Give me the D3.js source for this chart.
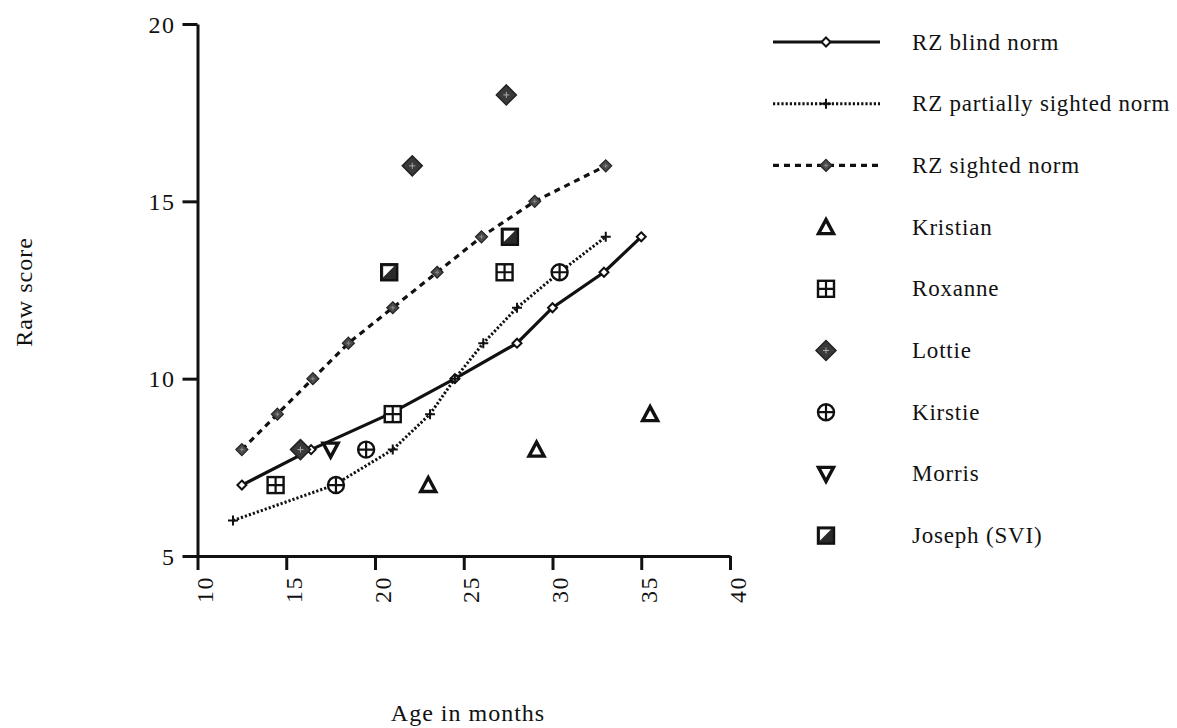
<!DOCTYPE html>
<html>
<head>
<meta charset="utf-8">
<script src="https://cdn.jsdelivr.net/npm/d3@7"></script>
<style>
  body { margin: 0; background: #fff; }
  svg text { font-family: "Liberation Serif", "Times New Roman", serif; fill: #111; }
</style>
</head>
<body>
<svg id="chart" width="1177" height="728"></svg>
<script>
// Normes RZ (âge en mois, score brut)
var blindAge = [12.5, 16.4, 20.8, 24.5, 28, 30, 32.9, 35];
var blindScore = [7, 8, 9, 10, 11, 12, 13, 14];
var partialAge = [12, 17.7, 21, 23.1, 24.5, 26.1, 28, 30.4, 33];
var partialScore = [6, 7, 8, 9, 10, 11, 12, 13, 14];
var sightedAge = [12.5, 14.5, 16.5, 18.5, 21, 23.5, 26, 29, 33];
var sightedScore = [8, 9, 10, 11, 12, 13, 14, 15, 16];

// Enfants
var kristianAge = [23, 29.1, 35.5];
var kristianScore = [7, 8, 9];
var roxanneAge = [14.4, 21, 27.3];
var roxanneScore = [7, 9, 13];
var lottieAge = [15.8, 22.1, 27.4];
var lottieScore = [8, 16, 18];
var kirstieAge = [17.8, 19.5, 30.4];
var kirstieScore = [7, 8, 13];
var morrisAge = [17.5];
var morrisScore = [8];
var josephAge = [20.8, 27.6];
var josephScore = [13, 14];

var xTicks = [10, 15, 20, 25, 30, 35, 40];
var yTicks = [5, 10, 15, 20];
var legendLabels = ["RZ blind norm", "RZ partially sighted norm", "RZ sighted norm",
  "Kristian", "Roxanne", "Lottie", "Kirstie", "Morris", "Joseph (SVI)"];

function zip(xs, ys) { return xs.map(function (x, i) { return { x: x, y: ys[i] }; }); }

var svg = d3.select("#chart");
var x = d3.scaleLinear().domain([10, 40]).range([197.5, 730]);
var y = d3.scaleLinear().domain([5, 20]).range([556, 24]);

// Axes
var gx = svg.append("g").attr("transform", "translate(0," + y(5) + ")")
  .call(d3.axisBottom(x).tickValues(xTicks).tickSize(14).tickSizeOuter(0).tickFormat(d3.format("d")));
var gy = svg.append("g").attr("transform", "translate(" + x(10) + ",0)")
  .call(d3.axisLeft(y).tickValues(yTicks).tickSize(15).tickSizeOuter(0).tickFormat(d3.format("d")));
[gx, gy].forEach(function (g) {
  g.select(".domain").attr("stroke", "#111").attr("stroke-width", 3);
  g.selectAll(".tick line").attr("stroke", "#111").attr("stroke-width", 3);
  g.selectAll("text").attr("fill", "#111").style("font-size", "24px").style("letter-spacing", "1.5px");
});
gx.selectAll(".tick text")
  .attr("text-anchor", "end")
  .attr("transform", "translate(0,20) rotate(-90)")
  .attr("x", 0).attr("y", 0).attr("dy", "15px");
gy.selectAll(".tick text").attr("x", -22).attr("dy", "0.34em");

// Titres des axes
svg.append("text").attr("x", 468).attr("y", 721).attr("text-anchor", "middle")
  .style("font-size", "24px").style("letter-spacing", "1px").text("Age in months");
svg.append("text").attr("transform", "translate(32,292) rotate(-90)").attr("text-anchor", "middle")
  .style("font-size", "24px").style("letter-spacing", "1px").text("Raw score");

// Marqueurs
function diamond(r) { return "M0," + (-r) + "L" + r + ",0L0," + r + "L" + (-r) + ",0Z"; }
function drawMarker(g, type) {
  if (type === "blind") {
    g.append("path").attr("d", diamond(4.5)).attr("fill", "#fff").attr("stroke", "#111").attr("stroke-width", 2);
  } else if (type === "partial") {
    g.append("path").attr("d", "M-5,0H5M0,-5V5").attr("stroke", "#111").attr("stroke-width", 2);
  } else if (type === "sighted") {
    g.append("path").attr("d", diamond(6)).attr("fill", "#4a4a4a").attr("stroke", "#222").attr("stroke-width", 1.2);
    g.append("path").attr("d", "M-2,0H2M0,-2V2").attr("stroke", "#999").attr("stroke-width", 0.8);
  } else if (type === "kristian") {
    g.append("path").attr("d", "M0,-7.5L7.5,6.5L-7.5,6.5Z").attr("fill", "#fff").attr("stroke", "#111").attr("stroke-width", 3.4);
  } else if (type === "morris") {
    g.append("path").attr("d", "M0,7.5L7.5,-6.5L-7.5,-6.5Z").attr("fill", "#fff").attr("stroke", "#111").attr("stroke-width", 3.4);
  } else if (type === "roxanne") {
    g.append("rect").attr("x", -8).attr("y", -8).attr("width", 16).attr("height", 16)
      .attr("fill", "#fff").attr("stroke", "#111").attr("stroke-width", 2.4);
    g.append("path").attr("d", "M-8,0H8M0,-8V8").attr("stroke", "#111").attr("stroke-width", 2.2);
  } else if (type === "lottie") {
    g.append("path").attr("d", diamond(10)).attr("fill", "#3a3a3a").attr("stroke", "#222").attr("stroke-width", 1.5);
    g.append("path").attr("d", "M-3,0H3M0,-3V3").attr("stroke", "#aaa").attr("stroke-width", 1);
  } else if (type === "kirstie") {
    g.append("circle").attr("r", 8).attr("fill", "#fff").attr("stroke", "#111").attr("stroke-width", 2.4);
    g.append("path").attr("d", "M-8,0H8M0,-8V8").attr("stroke", "#111").attr("stroke-width", 2.2);
  } else if (type === "joseph") {
    g.append("rect").attr("x", -8).attr("y", -8).attr("width", 16).attr("height", 16)
      .attr("fill", "#2a2a2a").attr("stroke", "#111").attr("stroke-width", 2.4);
    g.append("path").attr("d", "M-6,-6L5,-6L-6,5Z").attr("fill", "#fff");
  }
}

// Lignes des normes
var line = d3.line().x(function (d) { return x(d.x); }).y(function (d) { return y(d.y); });
var norms = [
  { type: "blind", data: zip(blindAge, blindScore), dash: null, width: 3.2 },
  { type: "partial", data: zip(partialAge, partialScore), dash: "2.2,2", width: 3 },
  { type: "sighted", data: zip(sightedAge, sightedScore), dash: "6,5", width: 3.2 }
];
norms.forEach(function (n) {
  svg.append("path").datum(n.data).attr("d", line).attr("fill", "none")
    .attr("stroke", "#111").attr("stroke-width", n.width).attr("stroke-dasharray", n.dash);
});
norms.forEach(function (n) {
  n.data.forEach(function (d) {
    drawMarker(svg.append("g").attr("transform", "translate(" + x(d.x) + "," + y(d.y) + ")"), n.type);
  });
});

// Points des enfants
var kids = [
  { type: "kristian", data: zip(kristianAge, kristianScore) },
  { type: "roxanne", data: zip(roxanneAge, roxanneScore) },
  { type: "lottie", data: zip(lottieAge, lottieScore) },
  { type: "kirstie", data: zip(kirstieAge, kirstieScore) },
  { type: "morris", data: zip(morrisAge, morrisScore) },
  { type: "joseph", data: zip(josephAge, josephScore) }
];
kids.forEach(function (k) {
  k.data.forEach(function (d) {
    drawMarker(svg.append("g").attr("transform", "translate(" + x(d.x) + "," + y(d.y) + ")"), k.type);
  });
});

// Légende
var legendTypes = ["blind", "partial", "sighted", "kristian", "roxanne", "lottie", "kirstie", "morris", "joseph"];
legendLabels.forEach(function (label, i) {
  var ly = 42 + i * 61.7;
  var g = svg.append("g").attr("transform", "translate(0," + ly + ")");
  if (i < 3) {
    g.append("line").attr("x1", 773).attr("x2", 880).attr("y1", 0).attr("y2", 0)
      .attr("stroke", "#111").attr("stroke-width", norms[i].width).attr("stroke-dasharray", norms[i].dash);
  }
  drawMarker(g.append("g").attr("transform", "translate(826,0)"), legendTypes[i]);
  g.append("text").attr("x", 912).attr("y", 0).attr("dy", "0.33em")
    .style("font-size", "23px").style("letter-spacing", "0.8px").text(label);
});
</script>
</body>
</html>
